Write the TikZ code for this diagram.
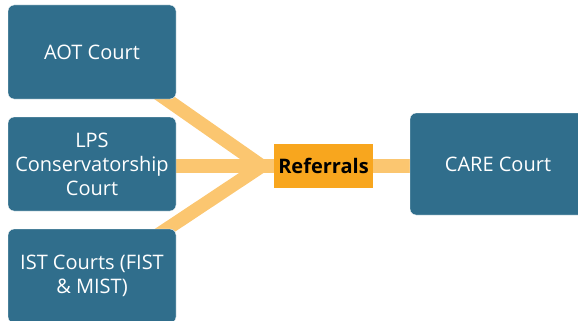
\documentclass[tikz,border=0pt]{standalone}
\usepackage{fontspec}
\setmainfont{Open Sans}
\usepackage{tikz}
\usetikzlibrary{backgrounds}
\definecolor{courtblue}{HTML}{306E8C}
\definecolor{reforange}{HTML}{F8A61E}
\definecolor{bandorange}{HTML}{FBC670}
\tikzset{
  court/.style = {rectangle, rounded corners=6pt, fill=courtblue, draw=white,
    text=white, align=center, font=\fontsize{20}{24}\selectfont,
    minimum width=168pt, minimum height=94pt, inner sep=0pt},% bloc tribunal
  referral/.style = {rectangle, fill=reforange, text=black,
    font=\fontsize{20}{24}\selectfont\bfseries,
    minimum width=99pt, minimum height=44pt, inner sep=0pt},% bloc renvoi
  band/.style = {bandorange, line width=13.5pt}% bande de liaison
}
\begin{document}
\begin{tikzpicture}[x=1pt,y=-1pt]
\clip (0,0) rectangle (578,321);
\node [court] (aot) at (92,52) {AOT Court};
\node [court] (lps) at (92,164) {LPS\\Conservatorship\\Court};
\node [court] (ist) at (92,276) {IST Courts (FIST\\\& MIST)};
\node [referral] (ref) at (323.5,166) {Referrals};
\node [court, minimum width=176pt, minimum height=102pt] (care) at (498,164) {CARE Court};
\coordinate (hub) at ([xshift=-12pt]ref.west);
\begin{scope}[on background layer]
\draw [band, shorten <=-15pt] ([xshift=-10pt]aot.south east) -- (hub);
\draw [band, shorten <=-15pt] ([xshift=-9pt]ist.north east) -- (hub);
\draw [band] (lps.east |- ref.west) -- (ref.west);
\draw [band] (ref.east) -- (care.west |- ref.east);
\end{scope}
\end{tikzpicture}
\end{document}
